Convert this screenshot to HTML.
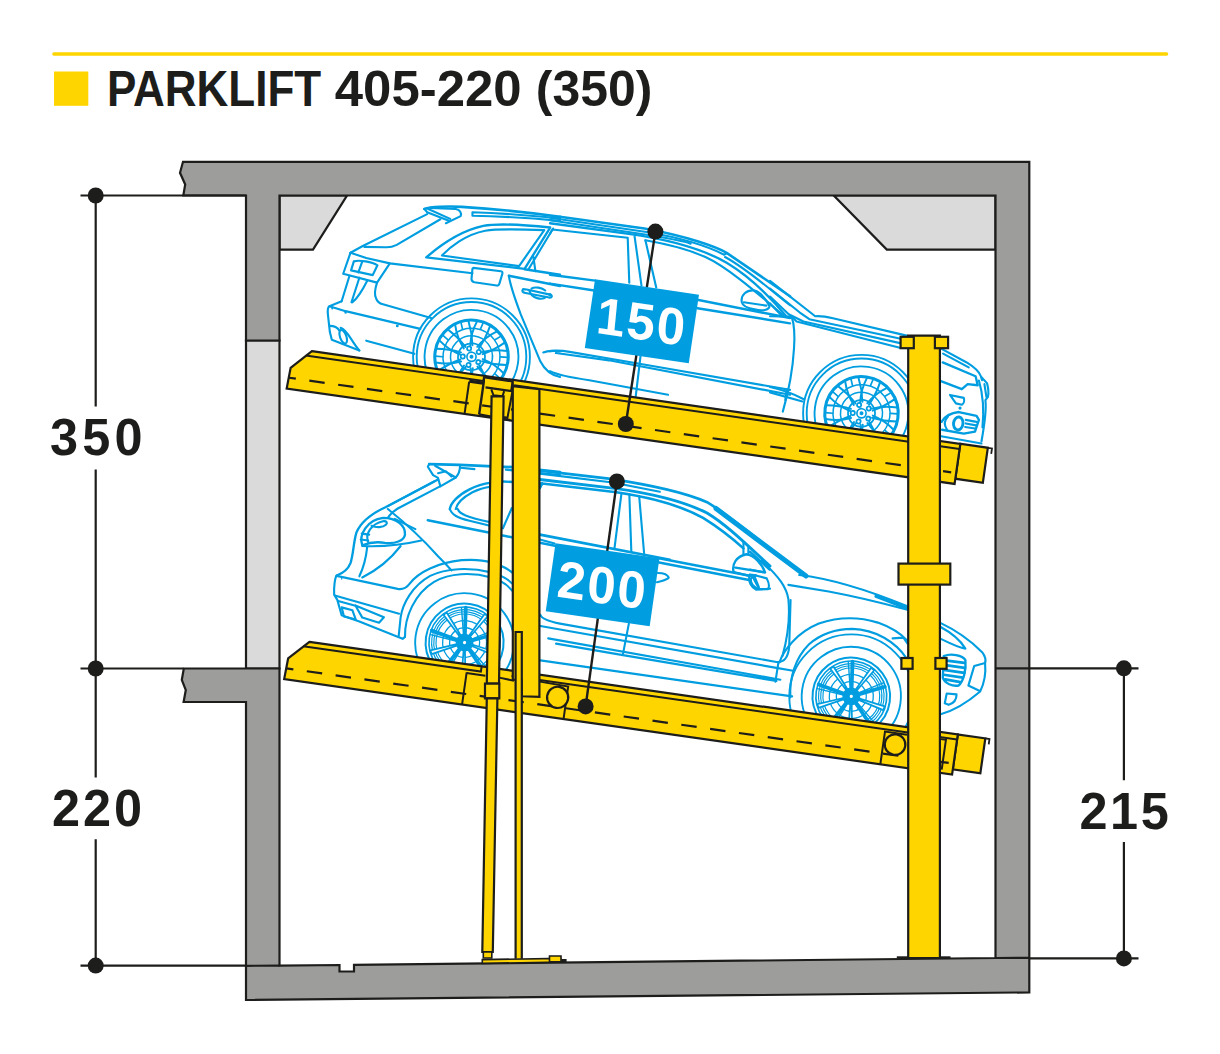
<!DOCTYPE html>
<html lang="de"><head><meta charset="utf-8"><title>PARKLIFT 405-220 (350)</title>
<style>
html,body{margin:0;padding:0;background:#fff;}
body{width:1220px;height:1054px;overflow:hidden;position:relative;font-family:"Liberation Sans",sans-serif;}
svg{position:absolute;left:0;top:0;display:block;}
text{font-family:"Liberation Sans",sans-serif;font-weight:bold;}
</style></head><body>
<svg width="1220" height="1054" viewBox="0 0 1220 1054">
<rect width="1220" height="1054" fill="#fff"/>
<!-- header -->
<line x1="54" y1="54" x2="1166.5" y2="54" stroke="#ffd500" stroke-width="3.6" stroke-linecap="round"/>
<rect x="54" y="71.5" width="34.3" height="34.3" fill="#ffd500"/>
<text y="105.7" font-size="49.7" fill="#1d1d1b"><tspan x="106.9" textLength="226.6" lengthAdjust="spacingAndGlyphs">PARKLIFT </tspan><tspan x="334.8" textLength="201" lengthAdjust="spacingAndGlyphs">405-220 </tspan><tspan x="535.8" textLength="116.5" lengthAdjust="spacingAndGlyphs">(350)</tspan></text>

<!-- building -->
<g stroke="#1d1d1b" stroke-width="2.2" stroke-linejoin="miter">
<path fill="#dadada" d="M246,340.5 H279.5 V668.5 H246 Z"/>
<path fill="#dadada" d="M279.5,195.5 H347 L313,249.6 H279.5 Z"/>
<path fill="#dadada" d="M995.5,195.5 H833.8 L886.8,249.6 H995.5 Z"/>
<path fill="#9d9d9c" d="M183,161.8 H1029.3 V992.4 L246,1000 V702 H183.6 L185.8,690 L181.8,680 L183.8,668.5 H279.5 V965.6 L339.5,965 V971.5 H354 V964.8 L995.5,958 V195.5 H279.5 V340.5 H246 V195.5 H183.3 L185.2,184.5 L180,172.8 Z"/>
<path fill="none" d="M246,965.8 L279.5,965.6 M995.5,958 L1029.3,957.8"/>
</g>
<!-- dimensions -->
<g stroke="#1d1d1b" stroke-width="2.2" fill="none">
<path d="M80.5,195.5 H246 M80.5,668.5 H183.5 M80.5,965.6 H246"/>
<path d="M95.7,195.5 V406.5 M95.7,469.5 V777.4 M95.7,839.3 V965.6"/>
<path d="M995.5,668.3 H1138.5 M1029.3,958.4 H1138.5"/>
<path d="M1123.9,668.3 V780.2 M1123.9,842 V958.4"/>
</g>
<g fill="#1d1d1b">
<circle cx="95.7" cy="195.5" r="8"/><circle cx="95.7" cy="668.5" r="8"/><circle cx="95.7" cy="965.6" r="8"/>
<circle cx="1123.9" cy="668.3" r="8"/><circle cx="1123.9" cy="958.4" r="8"/>
<text transform="translate(50,454.8) scale(0.97,1)" font-size="52" letter-spacing="4.3">350</text>
<text transform="translate(52,825.9) scale(0.97,1)" font-size="52" letter-spacing="3">220</text>
<text transform="translate(1079.4,828.5) scale(0.97,1)" font-size="52" letter-spacing="2.75">215</text>
</g>

<!-- CARS -->
<defs><clipPath id="cu"><path d="M280,190 H996 V474 L280,371.6 Z"/></clipPath><clipPath id="cl"><path d="M280,440 H996 V765 L280,662.6 Z"/></clipPath></defs>
<g clip-path="url(#cu)">
<!-- upper car, rear section (traced in zoom coords: origin 320,200 scale 1/5.083) -->
<g transform="translate(320,200) scale(0.19672)" fill="none" stroke="#009ee0" stroke-width="10.8" stroke-linecap="round" stroke-linejoin="round">
<path d="M530,45 C560,35 650,30 720,35 C800,40 1000,55 1220,85" stroke-width="13"/>
<path d="M530,45 L545,62 L655,105 M542,42 L662,96"/>
<path d="M775,62 L775,80 M775,62 C900,66 1050,76 1220,93 M775,80 C900,82 1050,90 1220,106"/>
<path d="M560,40 L690,46 C710,50 722,65 715,82 L640,118"/>
<path d="M545,72 L215,235 L155,268"/>
<path d="M612,98 L390,228 C370,238 350,242 330,240 L225,238"/>
<path d="M155,268 L235,295 L355,322 L775,372"/>
<path d="M155,268 L118,375 L290,420 L355,322"/>
<path d="M172,312 C200,303 265,315 292,332 L268,382 L158,358 Z" stroke-width="11"/>
<path d="M215,312 L195,368"/>
<path d="M150,385 L110,515 M200,395 L160,520 M240,410 C220,450 200,490 165,520"/>
<path d="M290,420 C280,450 275,480 285,500 C290,515 300,525 320,530 L565,600"/>
<path d="M110,515 L48,540 C40,545 38,560 40,580 L50,670 L60,710 L200,765"/>
<path d="M48,540 L130,565 L510,655"/>
<path d="M235,715 L480,782"/>
<path d="M50,640 C70,640 90,650 100,665 M105,650 C140,660 160,720 200,765"/>
<ellipse cx="118" cy="695" rx="16" ry="36" transform="rotate(-20 118 695)"/>
<circle cx="62" cy="552" r="5" fill="#009ee0" stroke="none"/><circle cx="130" cy="572" r="6" fill="#009ee0" stroke="none"/><circle cx="393" cy="640" r="7" fill="#009ee0" stroke="none"/>
<path d="M540,292 C600,240 700,160 830,132 C900,118 1000,122 1170,140 L1040,350 Z" stroke-width="12"/>
<path d="M620,282 C660,240 740,175 840,156 C900,146 1000,148 1140,153 L1012,336 Z"/>
<path d="M1185,145 L1060,352 M1085,290 L1095,362"/>
<path d="M780,345 L920,362 C926,363 929,368 927,375 L912,425 C910,432 905,436 898,435 L785,418 C775,416 770,410 770,402 L775,350 Z"/>
<path d="M960,385 C965,420 990,500 1020,580 L1120,820 C1140,860 1170,890 1220,900"/>
<path d="M960,385 L1220,437 M1040,352 L1220,380" stroke-width="12.5"/>
<path d="M1032,453 C1024,463 1030,470 1045,473 L1165,496 C1180,498 1183,486 1170,481 L1050,455 Z"/>
<path d="M1065,462 C1075,500 1130,512 1150,492 M1075,450 C1090,440 1130,445 1145,460"/>
<path d="M1135,775 C1160,765 1200,765 1220,770"/>
</g>

<!-- upper car, middle section (zoom coords: origin 550,200 scale 1/5.083) -->
<g transform="translate(550,200) scale(0.19672)" fill="none" stroke="#009ee0" stroke-width="10.8" stroke-linecap="round" stroke-linejoin="round">
<path d="M50,85 L480,145 C700,185 850,240 900,270 L1220,489" stroke-width="13"/>
<path d="M0,90 L490,163 C650,190 800,235 885,278 L900,270"/>
<path d="M0,103 L500,178 C620,198 700,215 715,222"/>
<path d="M0,118 L400,172 C600,200 780,250 900,320 C1000,380 1100,470 1200,590" stroke-width="12"/>
<path d="M890,290 C1000,350 1100,440 1220,535"/>
<path d="M12,150 L395,192 L403,420 M12,150 L0,172"/>
<path d="M430,185 L465,435 M485,205 L540,445"/>
<path d="M485,205 C600,225 700,250 790,290 C900,340 1050,470 1185,585" />
<path d="M0,380 L230,410 M0,425 L225,460" stroke-width="12.5"/>
<path d="M755,508 L1220,600 M750,550 L1220,627" stroke-width="12.5"/>
<path d="M975,520 C968,482 1000,455 1040,460 C1070,468 1100,510 1116,540 C1112,560 1080,566 1040,556 C1000,550 980,540 975,520 Z"/>
<path d="M985,520 L1100,537"/>
<path d="M460,795 L435,1005"/>
<path d="M0,768 C30,764 60,765 100,772 L440,830 L1220,965"/>
<path d="M30,778 L300,815 L1220,990"/>
<path d="M0,870 C40,890 100,902 200,916 L600,990"/>
<path d="M1203,962 L1196,1017"/>
<circle cx="0" cy="482" r="9" fill="#009ee0" stroke="none"/>
</g>

<!-- upper car, front section (zoom coords: origin 770,270 scale 1/5.083) -->
<g transform="translate(770,270) scale(0.19672)" fill="none" stroke="#009ee0" stroke-width="10.8" stroke-linecap="round" stroke-linejoin="round">
<path d="M0,55 L230,235 C260,232 290,238 320,245 L700,335"/>
<path d="M0,95 L150,215 L200,250 L700,357"/>
<path d="M0,135 L95,225 L170,262 L690,378"/>
<path d="M0,170 L60,232 M0,235 L110,237 L135,262 L660,395"/>
<path d="M110,237 C125,280 127,330 122,400 C116,500 100,600 65,720"/>
<path d="M0,595 C60,608 120,630 172,657 M0,622 L165,668"/>
<path d="M870,400 L1000,470 C1040,495 1065,520 1072,540 L1078,560"/>
<path d="M880,425 L1010,495"/>
<path d="M878,470 L1045,540 L1056,586 L1005,580 L975,606 L872,566" stroke-width="12"/>
<path d="M1075,545 L1103,575 C1110,600 1112,625 1108,645 L1095,662 C1100,700 1095,760 1075,872"/>
<path d="M1062,562 C1085,640 1088,720 1080,800 M1090,580 L1100,645"/>
<path d="M915,635 L985,650 C990,665 985,680 975,685 L945,678 Z"/>
<circle cx="966" cy="702" r="8" fill="#009ee0" stroke="none"/>
<path d="M872,772 C890,742 920,726 960,722 L1050,742 L1062,762 L1042,822 L985,832 L875,812" stroke-width="12"/>
<ellipse cx="957" cy="780" rx="24" ry="33" stroke-width="15" transform="rotate(8 957 780)"/>
<path d="M905,745 C885,765 885,790 900,812"/>
<path d="M995,762 L1050,772 M995,780 L1048,790 M992,798 L1042,806"/>
<path d="M870,845 L1075,882"/>
</g>

<g fill="none" stroke="#009ee0" stroke-width="1.9"><circle cx="471.5" cy="356.8" r="58.4"/><circle cx="471.5" cy="356.8" r="54.8"/></g>
<g transform="translate(471.5,356.8) rotate(8)" fill="none" stroke="#009ee0" stroke-width="1.77" stroke-linecap="round" stroke-linejoin="round">
<circle r="46.9" stroke-width="1.89"/>
<circle r="36.7" stroke-width="3.07"/>
<circle r="28.5" stroke-width="1.53"/><circle r="21" stroke-width="1.53"/><circle r="13.5" stroke-width="1.77"/>
<path d="M11.5,0.7 Q23.7,3.6 34.1,11.8" stroke-width="2.01"/>
<path d="M11.1,2.9 Q23.5,4.8 36.0,3.1" stroke-width="2.01"/>
<path d="M25.6,13.6 L31.6,17.5" stroke-width="1.65"/>
<path d="M8.8,7.3 Q17.1,16.9 20.7,29.6" stroke-width="2.01"/>
<path d="M7.3,8.9 Q16.2,17.7 27.2,23.7" stroke-width="2.01"/>
<path d="M12.7,26.1 L15.3,32.7" stroke-width="1.65"/>
<path d="M2.8,11.1 Q3.9,23.7 -0.6,36.1" stroke-width="2.01"/>
<path d="M0.7,11.5 Q2.7,23.8 8.1,35.2" stroke-width="2.01"/>
<path d="M-5.0,28.6 L-6.9,35.4" stroke-width="1.65"/>
<path d="M-4.3,10.7 Q-10.7,21.5 -21.7,28.8" stroke-width="2.01"/>
<path d="M-6.2,9.7 Q-11.8,20.9 -14.1,33.2" stroke-width="2.01"/>
<path d="M-20.9,20.1 L-26.4,24.6" stroke-width="1.65"/>
<path d="M-9.7,6.1 Q-21.3,11.0 -34.5,10.6" stroke-width="2.01"/>
<path d="M-10.7,4.2 Q-21.8,10.0 -30.9,18.6" stroke-width="2.01"/>
<path d="M-28.7,4.0 L-35.8,4.4" stroke-width="1.65"/>
<path d="M-11.5,-0.7 Q-23.7,-3.6 -34.1,-11.8" stroke-width="2.01"/>
<path d="M-11.1,-2.9 Q-23.5,-4.8 -36.0,-3.1" stroke-width="2.01"/>
<path d="M-25.6,-13.6 L-31.6,-17.5" stroke-width="1.65"/>
<path d="M-8.8,-7.3 Q-17.1,-16.9 -20.7,-29.6" stroke-width="2.01"/>
<path d="M-7.3,-8.9 Q-16.2,-17.7 -27.2,-23.7" stroke-width="2.01"/>
<path d="M-12.7,-26.1 L-15.3,-32.7" stroke-width="1.65"/>
<path d="M-2.8,-11.1 Q-3.9,-23.7 0.6,-36.1" stroke-width="2.01"/>
<path d="M-0.7,-11.5 Q-2.7,-23.8 -8.1,-35.2" stroke-width="2.01"/>
<path d="M5.0,-28.6 L6.9,-35.4" stroke-width="1.65"/>
<path d="M4.3,-10.7 Q10.7,-21.5 21.7,-28.8" stroke-width="2.01"/>
<path d="M6.2,-9.7 Q11.8,-20.9 14.1,-33.2" stroke-width="2.01"/>
<path d="M20.9,-20.1 L26.4,-24.6" stroke-width="1.65"/>
<path d="M9.7,-6.1 Q21.3,-11.0 34.5,-10.6" stroke-width="2.01"/>
<path d="M10.7,-4.2 Q21.8,-10.0 30.9,-18.6" stroke-width="2.01"/>
<path d="M28.7,-4.0 L35.8,-4.4" stroke-width="1.65"/>
<circle cx="7.5" cy="4.3" r="2.1" stroke-width="1.77"/>
<circle cx="-1.8" cy="8.5" r="2.1" stroke-width="1.77"/>
<circle cx="-8.7" cy="0.9" r="2.1" stroke-width="1.77"/>
<circle cx="-3.5" cy="-7.9" r="2.1" stroke-width="1.77"/>
<circle cx="6.5" cy="-5.8" r="2.1" stroke-width="1.77"/>
<circle r="4.6" stroke-width="1.65"/><circle r="2" fill="#009ee0" stroke="none"/>
</g>
<g fill="none" stroke="#009ee0" stroke-width="1.9"><circle cx="861.5" cy="413.3" r="58.4"/><circle cx="861.5" cy="413.3" r="54.8"/></g>
<g transform="translate(861.5,413.3) rotate(8)" fill="none" stroke="#009ee0" stroke-width="1.77" stroke-linecap="round" stroke-linejoin="round">
<circle r="46.9" stroke-width="1.89"/>
<circle r="36.7" stroke-width="3.07"/>
<circle r="28.5" stroke-width="1.53"/><circle r="21" stroke-width="1.53"/><circle r="13.5" stroke-width="1.77"/>
<path d="M11.5,0.7 Q23.7,3.6 34.1,11.8" stroke-width="2.01"/>
<path d="M11.1,2.9 Q23.5,4.8 36.0,3.1" stroke-width="2.01"/>
<path d="M25.6,13.6 L31.6,17.5" stroke-width="1.65"/>
<path d="M8.8,7.3 Q17.1,16.9 20.7,29.6" stroke-width="2.01"/>
<path d="M7.3,8.9 Q16.2,17.7 27.2,23.7" stroke-width="2.01"/>
<path d="M12.7,26.1 L15.3,32.7" stroke-width="1.65"/>
<path d="M2.8,11.1 Q3.9,23.7 -0.6,36.1" stroke-width="2.01"/>
<path d="M0.7,11.5 Q2.7,23.8 8.1,35.2" stroke-width="2.01"/>
<path d="M-5.0,28.6 L-6.9,35.4" stroke-width="1.65"/>
<path d="M-4.3,10.7 Q-10.7,21.5 -21.7,28.8" stroke-width="2.01"/>
<path d="M-6.2,9.7 Q-11.8,20.9 -14.1,33.2" stroke-width="2.01"/>
<path d="M-20.9,20.1 L-26.4,24.6" stroke-width="1.65"/>
<path d="M-9.7,6.1 Q-21.3,11.0 -34.5,10.6" stroke-width="2.01"/>
<path d="M-10.7,4.2 Q-21.8,10.0 -30.9,18.6" stroke-width="2.01"/>
<path d="M-28.7,4.0 L-35.8,4.4" stroke-width="1.65"/>
<path d="M-11.5,-0.7 Q-23.7,-3.6 -34.1,-11.8" stroke-width="2.01"/>
<path d="M-11.1,-2.9 Q-23.5,-4.8 -36.0,-3.1" stroke-width="2.01"/>
<path d="M-25.6,-13.6 L-31.6,-17.5" stroke-width="1.65"/>
<path d="M-8.8,-7.3 Q-17.1,-16.9 -20.7,-29.6" stroke-width="2.01"/>
<path d="M-7.3,-8.9 Q-16.2,-17.7 -27.2,-23.7" stroke-width="2.01"/>
<path d="M-12.7,-26.1 L-15.3,-32.7" stroke-width="1.65"/>
<path d="M-2.8,-11.1 Q-3.9,-23.7 0.6,-36.1" stroke-width="2.01"/>
<path d="M-0.7,-11.5 Q-2.7,-23.8 -8.1,-35.2" stroke-width="2.01"/>
<path d="M5.0,-28.6 L6.9,-35.4" stroke-width="1.65"/>
<path d="M4.3,-10.7 Q10.7,-21.5 21.7,-28.8" stroke-width="2.01"/>
<path d="M6.2,-9.7 Q11.8,-20.9 14.1,-33.2" stroke-width="2.01"/>
<path d="M20.9,-20.1 L26.4,-24.6" stroke-width="1.65"/>
<path d="M9.7,-6.1 Q21.3,-11.0 34.5,-10.6" stroke-width="2.01"/>
<path d="M10.7,-4.2 Q21.8,-10.0 30.9,-18.6" stroke-width="2.01"/>
<path d="M28.7,-4.0 L35.8,-4.4" stroke-width="1.65"/>
<circle cx="7.5" cy="4.3" r="2.1" stroke-width="1.77"/>
<circle cx="-1.8" cy="8.5" r="2.1" stroke-width="1.77"/>
<circle cx="-8.7" cy="0.9" r="2.1" stroke-width="1.77"/>
<circle cx="-3.5" cy="-7.9" r="2.1" stroke-width="1.77"/>
<circle cx="6.5" cy="-5.8" r="2.1" stroke-width="1.77"/>
<circle r="4.6" stroke-width="1.65"/><circle r="2" fill="#009ee0" stroke="none"/>
</g>
</g>
<g clip-path="url(#cl)">
<!-- lower car, rear section (zoom coords: origin 320,450 scale 1/5.083) -->
<g transform="translate(320,450) scale(0.19672)" fill="none" stroke="#009ee0" stroke-width="10.8" stroke-linecap="round" stroke-linejoin="round">
<path d="M555,72 L710,75 L1000,88 L1220,112" stroke-width="14"/>
<path d="M715,90 L785,97 M945,100 L1220,128"/>
<path d="M555,72 L548,85 L575,128 L600,142 L612,185 L690,140 C705,125 712,100 712,78"/>
<path d="M585,80 L690,140 M600,118 L640,108 L668,135"/>
<path d="M600,150 L335,290 C270,320 210,360 185,420 C170,470 170,530 155,575 C145,600 120,625 85,638" stroke-width="12"/>
<path d="M610,185 L410,290 C380,305 360,320 345,345"/>
<path d="M580,160 L345,285"/>
<path d="M215,485 C195,430 240,355 320,345 C390,345 435,385 432,430 C428,462 380,478 330,472 C290,465 250,470 215,485 Z" stroke-width="12"/>
<path d="M245,468 C228,425 262,375 320,362 C340,360 345,370 335,380 C320,395 285,395 262,385"/>
<path d="M212,425 L250,430 M207,455 L245,460"/>
<path d="M380,350 L485,402"/>
<path d="M345,300 C420,360 520,450 600,540 C630,570 650,590 668,612"/>
<path d="M215,488 C300,492 420,482 515,460"/>
<path d="M240,492 C235,540 225,590 200,642 M410,488 C370,540 300,605 215,648"/>
<path d="M85,638 C75,650 70,700 72,735 L88,762 L110,840 L200,872 L420,960 L432,950"/>
<path d="M85,640 L395,706 C420,710 440,700 455,680 C500,620 600,572 720,560 C790,555 840,562 870,572"/>
<path d="M400,945 L410,850 C420,780 470,690 560,640 C640,600 760,595 870,622"/>
<path d="M432,950 C430,850 480,730 580,670 C660,625 770,620 870,648"/>
<path d="M75,740 L402,832 M92,768 L180,792"/>
<path d="M180,790 L325,850 L300,878 L215,852 Z"/>
<path d="M110,800 L165,815 L182,862 L122,846 Z"/>
<path d="M660,300 C665,270 700,230 760,200 C800,180 830,172 870,166 M930,160 L1130,170" stroke-width="12"/>
<path d="M660,300 C670,330 700,345 760,360 L870,386"/>
<path d="M690,300 C695,275 720,245 775,215 C810,197 840,190 870,186 M700,300 C710,325 740,340 870,368"/>
<path d="M930,398 L975,295 M1130,170 L1085,250"/>
<path d="M548,357 L870,422 M930,435 L1220,492" stroke-width="13"/>
<circle cx="110" cy="655" r="4" fill="#009ee0" stroke="none"/>
</g>

<!-- lower car, rear wheel arch continuation + sill (zoom coords: origin 380,560 scale 1/5.083) -->
<g transform="translate(380,560) scale(0.19672)" fill="none" stroke="#009ee0" stroke-width="10.8" stroke-linecap="round" stroke-linejoin="round">
<path d="M560,12 C620,25 680,60 720,110 M560,62 C620,75 670,110 700,150 M560,89 C620,100 660,135 690,180"/>
</g>
<!-- lower car, middle section (zoom coords: origin 530,450 scale 1/5.083) -->
<g transform="translate(530,450) scale(0.19672)" fill="none" stroke="#009ee0" stroke-width="10.8" stroke-linecap="round" stroke-linejoin="round">
<path d="M50,105 L400,145 C600,175 800,220 900,265 C1000,325 1100,410 1220,503" stroke-width="14"/>
<path d="M50,120 L420,165 L660,212"/>
<path d="M50,150 L430,195 C650,225 800,270 900,320 C1000,380 1100,480 1220,590" stroke-width="15"/>
<path d="M62,170 L50,192 M62,170 L440,215 C640,245 780,290 880,345 C960,395 1030,450 1085,500" stroke-width="13"/>
<path d="M465,220 L430,495 M505,225 L515,515 M555,235 L580,525"/>
<path d="M50,430 L711,558" stroke-width="14"/>
<path d="M50,455 L125,475"/>
<path d="M655,550 L1130,642 M650,570 L1120,662" stroke-width="13"/>
<path d="M650,625 C680,625 700,635 705,648 C700,660 670,665 645,672"/>
<path d="M1035,620 C1025,580 1050,540 1100,530 C1140,535 1180,580 1195,622 M1045,598 L1195,622" stroke-width="12"/>
<path d="M1085,470 L1085,528 M1110,490 L1110,532"/>
<path d="M1115,640 C1110,670 1125,700 1150,710 L1220,705 M1130,640 L1162,702 M1035,620 L1115,640"/>
</g>
<!-- lower car, sill (zoom coords: origin 560,600 scale 1/5.083) -->
<g transform="translate(560,600) scale(0.19672)" fill="none" stroke="#009ee0" stroke-width="10.8" stroke-linecap="round" stroke-linejoin="round">
<path d="M-100,75 C-95,95 -60,108 0,120 L1100,315 C1140,320 1160,290 1165,240 L1172,0"/>
<path d="M-100,132 L1100,345 L1185,360"/>
<path d="M-60,195 L1120,405 M-20,222 L320,280 L1100,412"/>
<path d="M350,120 L320,275"/>
<path d="M1110,320 L1095,415"/>
<path d="M-100,307 L1180,490"/>
</g>

<!-- lower car, A-pillar band (real coords) -->
<path d="M716,508.5 L806,576" fill="none" stroke="#009ee0" stroke-width="5" stroke-linecap="round"/>
<!-- lower car, front section (zoom coords: origin 750,540 scale 1/5.083) -->
<g transform="translate(750,540) scale(0.19672)" fill="none" stroke="#009ee0" stroke-width="10.8" stroke-linecap="round" stroke-linejoin="round">
<path d="M250,178 C400,195 600,255 800,337"/>
<path d="M195,228 L400,262 C550,290 700,328 800,355"/>
<path d="M640,286 L800,348" stroke-width="16"/>
<path d="M60,105 C150,190 185,240 195,300 C205,400 190,500 165,590"/>
<path d="M0,60 L100,150" stroke-width="13"/>
<path d="M5,195 C0,220 20,245 50,250 L90,250 C100,240 95,215 85,195 L30,180 Z M25,190 L45,240"/>
<path d="M0,150 L75,165 M0,175 L30,180"/>
<path d="M150,622 C170,560 240,470 350,425 C450,390 560,392 650,420 C720,445 770,480 800,512"/>
<path d="M205,800 C200,700 230,600 300,530 C370,470 450,452 520,452 C640,455 740,520 795,600"/>
<path d="M725,500 L780,496 L800,526"/>
<path d="M965,420 C1050,460 1130,520 1180,570 C1195,590 1200,610 1195,625"/>
<path d="M965,440 C1020,470 1070,510 1095,552 C1060,548 1010,522 965,500"/>
<path d="M1195,625 L1140,640 L1110,740 L1168,768"/>
<path d="M1195,625 C1200,680 1190,730 1170,770 C1100,830 1030,870 965,887"/>
<path d="M985,590 C1020,575 1080,585 1095,610 C1100,660 1085,720 1060,740 C1030,745 990,730 980,700 Z" stroke-width="12"/>
<path d="M990,612 L1090,625 M985,635 L1092,650 M985,660 L1090,675 M985,685 L1082,700 M992,708 L1070,722" stroke-width="14"/>
<path d="M1000,780 L1050,785 C1050,810 1035,830 1010,838 L990,830 Z"/>
</g>

<g transform="translate(464.6,642.6) rotate(8)" fill="none" stroke="#009ee0" stroke-width="1.77" stroke-linecap="round" stroke-linejoin="round">
<circle r="49.4" stroke-width="1.89"/>
<circle r="39" stroke-width="2.01"/><circle r="35.6" stroke-width="1.65"/>
<circle r="33.0" stroke-width="1.18"/>
<circle r="30.8" stroke-width="1.18"/>
<circle r="28.6" stroke-width="1.18"/>
<circle r="22" stroke-width="1.3"/><circle r="15" stroke-width="1.3"/>
<circle r="9" fill="#009ee0" stroke="none"/>
<path d="M6.0,0.6 L34.6,5.4 L33.8,9.2 L5.7,1.9 Z" fill="#fff" stroke-width="1.77"/>
<path d="M2.7,3.0 L23.4,26.0" stroke-width="3.78"/>
<path d="M6.3,4.9 L26.4,23.0" stroke-width="1.42"/>
<path d="M1.2,5.9 L5.6,34.5 L1.7,35.0 L0.0,6.0 Z" fill="#fff" stroke-width="1.77"/>
<path d="M-2.0,3.5 L-17.5,30.3" stroke-width="3.78"/>
<path d="M-2.7,7.5 L-13.7,32.2" stroke-width="1.42"/>
<path d="M-5.2,3.0 L-31.1,16.0 L-32.7,12.4 L-5.7,1.9 Z" fill="#fff" stroke-width="1.77"/>
<path d="M-3.9,-0.8 L-34.2,-7.3" stroke-width="3.78"/>
<path d="M-8.0,-0.3 L-34.9,-3.1" stroke-width="1.42"/>
<path d="M-4.5,-4.0 L-24.8,-24.7 L-21.9,-27.3 L-3.5,-4.9 Z" fill="#fff" stroke-width="1.77"/>
<path d="M-0.4,-4.0 L-3.7,-34.8" stroke-width="3.78"/>
<path d="M-2.2,-7.7 L-7.9,-34.1" stroke-width="1.42"/>
<path d="M2.4,-5.5 L15.8,-31.2 L19.2,-29.3 L3.5,-4.9 Z" fill="#fff" stroke-width="1.77"/>
<path d="M3.7,-1.6 L32.0,-14.2" stroke-width="3.78"/>
<path d="M6.6,-4.5 L30.0,-18.0" stroke-width="1.42"/>
<circle r="5" fill="#009ee0" stroke="none"/><circle r="1.6" fill="#fff" stroke="none"/>
</g>
<circle cx="851.3" cy="696.4" r="62" fill="none" stroke="#009ee0" stroke-width="1.9"/>
<g transform="translate(851.3,696.4) rotate(8)" fill="none" stroke="#009ee0" stroke-width="1.77" stroke-linecap="round" stroke-linejoin="round">
<circle r="49.6" stroke-width="1.89"/>
<circle r="38.8" stroke-width="2.01"/><circle r="35.4" stroke-width="1.65"/>
<circle r="32.8" stroke-width="1.18"/>
<circle r="30.6" stroke-width="1.18"/>
<circle r="28.4" stroke-width="1.18"/>
<circle r="22" stroke-width="1.3"/><circle r="15" stroke-width="1.3"/>
<circle r="9" fill="#009ee0" stroke="none"/>
<path d="M6.0,0.6 L34.4,5.3 L33.6,9.1 L5.7,1.9 Z" fill="#fff" stroke-width="1.77"/>
<path d="M2.7,3.0 L23.3,25.9" stroke-width="3.78"/>
<path d="M6.3,4.9 L26.3,22.8" stroke-width="1.42"/>
<path d="M1.2,5.9 L5.6,34.4 L1.7,34.8 L0.0,6.0 Z" fill="#fff" stroke-width="1.77"/>
<path d="M-2.0,3.5 L-17.4,30.1" stroke-width="3.78"/>
<path d="M-2.7,7.5 L-13.6,32.0" stroke-width="1.42"/>
<path d="M-5.2,3.0 L-31.0,15.9 L-32.5,12.4 L-5.7,1.9 Z" fill="#fff" stroke-width="1.77"/>
<path d="M-3.9,-0.8 L-34.0,-7.2" stroke-width="3.78"/>
<path d="M-8.0,-0.3 L-34.7,-3.0" stroke-width="1.42"/>
<path d="M-4.5,-4.0 L-24.7,-24.5 L-21.8,-27.1 L-3.5,-4.9 Z" fill="#fff" stroke-width="1.77"/>
<path d="M-0.4,-4.0 L-3.6,-34.6" stroke-width="3.78"/>
<path d="M-2.2,-7.7 L-7.8,-33.9" stroke-width="1.42"/>
<path d="M2.4,-5.5 L15.7,-31.1 L19.1,-29.1 L3.5,-4.9 Z" fill="#fff" stroke-width="1.77"/>
<path d="M3.7,-1.6 L31.8,-14.2" stroke-width="3.78"/>
<path d="M6.6,-4.5 L29.8,-17.9" stroke-width="1.42"/>
<circle r="5" fill="#009ee0" stroke="none"/><circle r="1.6" fill="#fff" stroke="none"/>
</g>
</g>
<!-- platforms -->
<g transform="translate(311.9,351.2) rotate(8.133)" stroke="#1d1d1b" stroke-width="2.2" stroke-linejoin="miter" fill="#ffd500">
<path d="M655,0 L682.8,0 L682.8,35.2 L655,35.2 Z"/>
<path d="M682.8,0 L687,0 L687,5.5" fill="none" stroke-width="1.8"/>
<path d="M0,0 L655,0 L655,40.5 L-19.7,40.5 L-18.7,19.5 Z"/>
<path d="M-5.5,5.2 L174,5.2 L174,0.5 M205,5.2 L655,5.2" fill="none" stroke-width="2"/>
<path d="M-19,29.5 L650,29.5" fill="none" stroke-width="2.2" stroke-dasharray="15.5 13.6" stroke-dashoffset="8.5"/>
<path d="M160,8 L160,40.5" fill="none" stroke-width="2"/>
<path d="M160,7.4 L174,7.4" fill="none" stroke-width="3.4"/>
<path d="M174.5,1.5 L174.5,39" fill="none" stroke-width="2.4"/>
<path d="M175,1.5 L203,1.5 L203,11.2 L177,11.2" stroke-width="2.2"/>
<path d="M183,12.5 L186,18 L195,17.6 L196,12.3" fill="none" stroke-width="2"/>
<path d="M203,2 L204.4,8 L203,38.5 L199.6,38" fill="none" stroke-width="2"/>
<path d="M174.5,39 L206,40.2" fill="none" stroke-width="2.4"/>
</g>
<g transform="translate(309.4,641.8) rotate(8.133)" stroke="#1d1d1b" stroke-width="2.2" stroke-linejoin="miter" fill="#ffd500">
<path d="M655,0 L682.8,0 L682.8,35.2 L655,35.2 Z"/>
<path d="M682.8,0 L687,0 L687,5.5" fill="none" stroke-width="1.8"/>
<path d="M0,0 L655,0 L655,40.5 L-19.7,40.5 L-18.7,19.5 Z"/>
<path d="M-5.5,5.2 L174,5.2 L174,0.5 M205,5.2 L655,5.2" fill="none" stroke-width="2"/>
<path d="M-19,29.5 L650,29.5" fill="none" stroke-width="2.2" stroke-dasharray="15.5 13.6" stroke-dashoffset="8.5"/>
<path d="M160,8 L160,40.5" fill="none" stroke-width="2"/>
<path d="M160,8.6 L179,8.6 M193,8.6 L208,9.6 M639,7 L644,7 L644,37" fill="none" stroke-width="2"/>
<path d="M234,6.8 L262.5,7.6 L262.5,40.5" fill="none" stroke-width="2"/>
<circle cx="253.6" cy="19.9" r="10.6" stroke-width="2.2"/>
<path d="M604.7,7.4 L582.5,7.4 L582.5,40.5" fill="none" stroke-width="2"/>
<circle cx="594.3" cy="18.9" r="10.3" stroke-width="2.2"/>
</g>
<!-- posts -->
<g stroke="#1d1d1b" stroke-width="2.2" fill="#ffd500" stroke-linejoin="miter">
<!-- right post -->
<rect x="896.8" y="956.3" width="53.7" height="2.2" fill="#1d1d1b" stroke="none"/>
<path d="M908.2,957 V335.7 H939.9 V957"/>
<rect x="900.6" y="336.8" width="13.2" height="11.4"/>
<rect x="934.9" y="336.8" width="13.2" height="11.4"/>
<rect x="898.5" y="563.6" width="51.8" height="21"/>
<rect x="901.4" y="658" width="11.2" height="10.8"/>
<rect x="935.4" y="658" width="11.2" height="10.8"/>
<!-- left wide post -->
<path d="M512.8,386.1 L539.4,389.2 V696.9 L521.8,696.3 V680.5 L512.8,679.5 Z"/>
<!-- hydraulic cylinder -->
<path d="M491.6,396.4 H503.6 L499,683.6 H486.8 Z"/>
<path d="M485,683.6 H499.3 V698.4 H485 Z"/>
<path d="M486.8,698.4 H497.4 L492.8,952 H482.3 Z"/>
<path d="M483.3,952 H491.8 V958 H483.3 Z" stroke-width="1.6"/>
<!-- thin rod -->
<path d="M515.6,958.7 V632 H521.8 V958.7" />
<!-- base plate -->
<path d="M482.3,959.6 L560.5,958.4 V962 L482.3,963.4 Z" stroke-width="1.6"/>
<path d="M549.5,956 H561 V961.8 H549.5 Z" stroke-width="1.6"/>
<path d="M561,959 H566.6 V962 H561 Z" fill="#1d1d1b" stroke="none"/>
</g>

<!-- labels -->
<g>
<line x1="655.4" y1="231.6" x2="625.8" y2="424" stroke="#1d1d1b" stroke-width="2.4"/>
<circle cx="655.4" cy="231.6" r="8" fill="#1d1d1b"/><circle cx="625.8" cy="424" r="8" fill="#1d1d1b"/>
<g transform="translate(641.9,321.3) rotate(8.47)">
<rect x="-52.55" y="-34.7" width="105.1" height="69.4" fill="#009ee0"/>
<text transform="translate(1,18.3) skewX(3) scale(0.98,1)" font-size="52" fill="#fff" text-anchor="middle" letter-spacing="2">150</text>
</g></g>
<g>
<line x1="616.9" y1="481.4" x2="585.6" y2="706.4" stroke="#1d1d1b" stroke-width="2.4"/>
<circle cx="616.9" cy="481.4" r="8" fill="#1d1d1b"/><circle cx="585.6" cy="706.4" r="8" fill="#1d1d1b"/>
<g transform="translate(602.6,584.8) rotate(8.2)">
<rect x="-52.5" y="-34.3" width="105" height="68.6" fill="#009ee0"/>
<text transform="translate(1,18.3) skewX(3) scale(0.98,1)" font-size="52" fill="#fff" text-anchor="middle" letter-spacing="2">200</text>
</g></g>
</svg></body></html>
